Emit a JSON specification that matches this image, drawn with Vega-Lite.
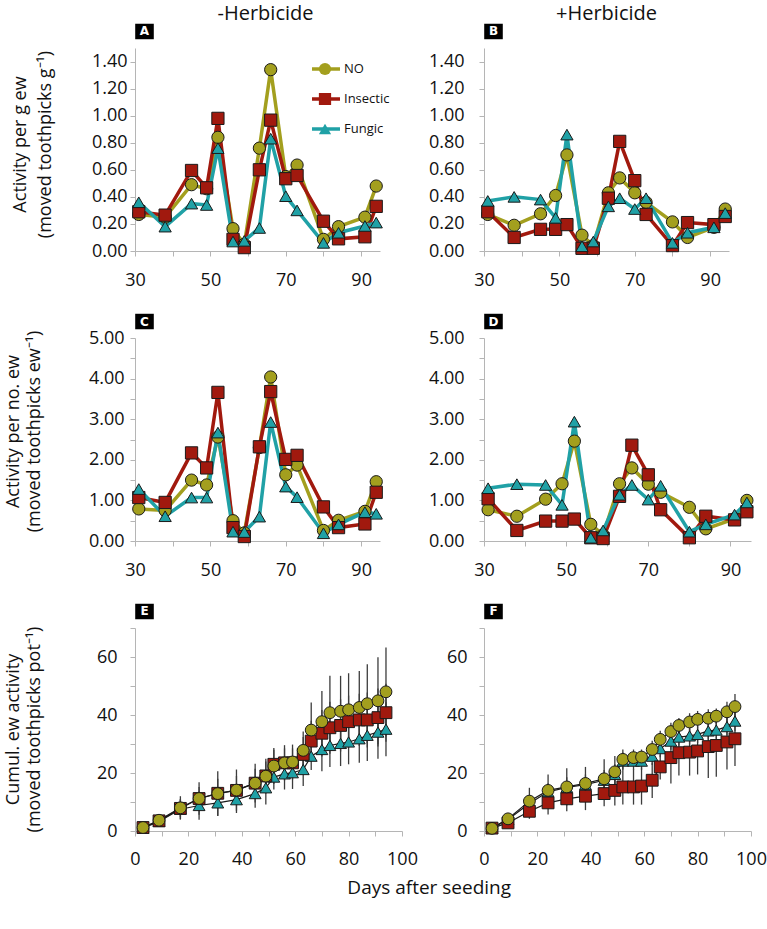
{
  "$schema": "https://vega.github.io/schema/vega-lite/v6.json",
  "padding": {"left": 4, "right": 3, "top": 3, "bottom": 5},
  "config": {
    "view": {"stroke": null},
    "font": "Open Sans",
    "axis": {"grid": false, "domainColor": "#b5b5b5", "tickColor": "#b5b5b5", "tickSize": 5, "labelFont": "Open Sans", "labelFontSize": 18, "labelColor": "#111", "titleFont": "Open Sans", "titleFontSize": 18, "titleFontWeight": "normal", "titleColor": "#111", "labelFlush": false, "labelOverlap": false},
    "axisX": {"labelPadding": 15},
    "axisY": {"labelPadding": 3},
    "title": {"font": "Open Sans", "fontWeight": "normal", "color": "#111"}
  },
  "title": {"text": "Days after seeding", "orient": "bottom", "anchor": "middle", "fontSize": 19, "offset": 11, "dx": 44},
  "columns": 2,
  "bounds": "flush",
  "align": "all",
  "spacing": {"row": 87, "column": 82},
  "resolve": {"legend": {"stroke": "independent"}},
  "datasets": {
    "A": [
      {"day":31,"s":"NO","v":0.27},{"day":38,"s":"NO","v":0.25},{"day":45,"s":"NO","v":0.49},{"day":49,"s":"NO","v":0.46},{"day":52,"s":"NO","v":0.84},{"day":56,"s":"NO","v":0.165},{"day":59,"s":"NO","v":0.05},{"day":63,"s":"NO","v":0.76},{"day":66,"s":"NO","v":1.34},{"day":70,"s":"NO","v":0.55},{"day":73,"s":"NO","v":0.635},{"day":80,"s":"NO","v":0.086},{"day":84,"s":"NO","v":0.18},{"day":91,"s":"NO","v":0.25},{"day":94,"s":"NO","v":0.48},
      {"day":31,"s":"Insectic","v":0.29},{"day":38,"s":"Insectic","v":0.265},{"day":45,"s":"Insectic","v":0.595},{"day":49,"s":"Insectic","v":0.467},{"day":52,"s":"Insectic","v":0.98},{"day":56,"s":"Insectic","v":0.086},{"day":59,"s":"Insectic","v":0.025},{"day":63,"s":"Insectic","v":0.6},{"day":66,"s":"Insectic","v":0.967},{"day":70,"s":"Insectic","v":0.534},{"day":73,"s":"Insectic","v":0.558},{"day":80,"s":"Insectic","v":0.22},{"day":84,"s":"Insectic","v":0.09},{"day":91,"s":"Insectic","v":0.105},{"day":94,"s":"Insectic","v":0.33},
      {"day":31,"s":"Fungic","v":0.36},{"day":38,"s":"Fungic","v":0.18},{"day":45,"s":"Fungic","v":0.35},{"day":49,"s":"Fungic","v":0.34},{"day":52,"s":"Fungic","v":0.76},{"day":56,"s":"Fungic","v":0.07},{"day":59,"s":"Fungic","v":0.075},{"day":63,"s":"Fungic","v":0.17},{"day":66,"s":"Fungic","v":0.83},{"day":70,"s":"Fungic","v":0.405},{"day":73,"s":"Fungic","v":0.3},{"day":80,"s":"Fungic","v":0.06},{"day":84,"s":"Fungic","v":0.135},{"day":91,"s":"Fungic","v":0.185},{"day":94,"s":"Fungic","v":0.21}
    ],
    "B": [
      {"day":31,"s":"NO","v":0.27},{"day":38,"s":"NO","v":0.19},{"day":45,"s":"NO","v":0.275},{"day":49,"s":"NO","v":0.41},{"day":52,"s":"NO","v":0.71},{"day":56,"s":"NO","v":0.117},{"day":59,"s":"NO","v":0.04},{"day":63,"s":"NO","v":0.43},{"day":66,"s":"NO","v":0.54},{"day":70,"s":"NO","v":0.43},{"day":73,"s":"NO","v":0.36},{"day":80,"s":"NO","v":0.215},{"day":84,"s":"NO","v":0.1},{"day":91,"s":"NO","v":0.175},{"day":94,"s":"NO","v":0.31},
      {"day":31,"s":"Insectic","v":0.29},{"day":38,"s":"Insectic","v":0.1},{"day":45,"s":"Insectic","v":0.16},{"day":49,"s":"Insectic","v":0.16},{"day":52,"s":"Insectic","v":0.195},{"day":56,"s":"Insectic","v":0.02},{"day":59,"s":"Insectic","v":0.02},{"day":63,"s":"Insectic","v":0.39},{"day":66,"s":"Insectic","v":0.81},{"day":70,"s":"Insectic","v":0.52},{"day":73,"s":"Insectic","v":0.27},{"day":80,"s":"Insectic","v":0.04},{"day":84,"s":"Insectic","v":0.21},{"day":91,"s":"Insectic","v":0.195},{"day":94,"s":"Insectic","v":0.255},
      {"day":31,"s":"Fungic","v":0.37},{"day":38,"s":"Fungic","v":0.4},{"day":45,"s":"Fungic","v":0.38},{"day":49,"s":"Fungic","v":0.245},{"day":52,"s":"Fungic","v":0.86},{"day":56,"s":"Fungic","v":0.035},{"day":59,"s":"Fungic","v":0.07},{"day":63,"s":"Fungic","v":0.33},{"day":66,"s":"Fungic","v":0.39},{"day":70,"s":"Fungic","v":0.31},{"day":73,"s":"Fungic","v":0.39},{"day":80,"s":"Fungic","v":0.06},{"day":84,"s":"Fungic","v":0.135},{"day":91,"s":"Fungic","v":0.175},{"day":94,"s":"Fungic","v":0.28}
    ],
    "C": [
      {"day":31,"s":"NO","v":0.79},{"day":38,"s":"NO","v":0.75},{"day":45,"s":"NO","v":1.5},{"day":49,"s":"NO","v":1.38},{"day":52,"s":"NO","v":2.56},{"day":56,"s":"NO","v":0.5},{"day":59,"s":"NO","v":0.2},{"day":63,"s":"NO","v":2.3},{"day":66,"s":"NO","v":4.04},{"day":70,"s":"NO","v":1.63},{"day":73,"s":"NO","v":1.87},{"day":80,"s":"NO","v":0.26},{"day":84,"s":"NO","v":0.51},{"day":91,"s":"NO","v":0.73},{"day":94,"s":"NO","v":1.46},
      {"day":31,"s":"Insectic","v":1.07},{"day":38,"s":"Insectic","v":0.95},{"day":45,"s":"Insectic","v":2.17},{"day":49,"s":"Insectic","v":1.8},{"day":52,"s":"Insectic","v":3.66},{"day":56,"s":"Insectic","v":0.33},{"day":59,"s":"Insectic","v":0.11},{"day":63,"s":"Insectic","v":2.32},{"day":66,"s":"Insectic","v":3.68},{"day":70,"s":"Insectic","v":2.01},{"day":73,"s":"Insectic","v":2.11},{"day":80,"s":"Insectic","v":0.84},{"day":84,"s":"Insectic","v":0.33},{"day":91,"s":"Insectic","v":0.42},{"day":94,"s":"Insectic","v":1.2},
      {"day":31,"s":"Fungic","v":1.28},{"day":38,"s":"Fungic","v":0.61},{"day":45,"s":"Fungic","v":1.07},{"day":49,"s":"Fungic","v":1.07},{"day":52,"s":"Fungic","v":2.67},{"day":56,"s":"Fungic","v":0.23},{"day":59,"s":"Fungic","v":0.22},{"day":63,"s":"Fungic","v":0.6},{"day":66,"s":"Fungic","v":2.93},{"day":70,"s":"Fungic","v":1.34},{"day":73,"s":"Fungic","v":1.08},{"day":80,"s":"Fungic","v":0.19},{"day":84,"s":"Fungic","v":0.41},{"day":91,"s":"Fungic","v":0.71},{"day":94,"s":"Fungic","v":0.67}
    ],
    "D": [
      {"day":31,"s":"NO","v":0.77},{"day":38,"s":"NO","v":0.61},{"day":45,"s":"NO","v":1.03},{"day":49,"s":"NO","v":1.41},{"day":52,"s":"NO","v":2.46},{"day":56,"s":"NO","v":0.41},{"day":59,"s":"NO","v":0.15},{"day":63,"s":"NO","v":1.41},{"day":66,"s":"NO","v":1.8},{"day":70,"s":"NO","v":1.4},{"day":73,"s":"NO","v":1.2},{"day":80,"s":"NO","v":0.83},{"day":84,"s":"NO","v":0.3},{"day":91,"s":"NO","v":0.55},{"day":94,"s":"NO","v":1.0},
      {"day":31,"s":"Insectic","v":1.04},{"day":38,"s":"Insectic","v":0.26},{"day":45,"s":"Insectic","v":0.49},{"day":49,"s":"Insectic","v":0.49},{"day":52,"s":"Insectic","v":0.54},{"day":56,"s":"Insectic","v":0.08},{"day":59,"s":"Insectic","v":0.06},{"day":63,"s":"Insectic","v":1.1},{"day":66,"s":"Insectic","v":2.36},{"day":70,"s":"Insectic","v":1.63},{"day":73,"s":"Insectic","v":0.77},{"day":80,"s":"Insectic","v":0.08},{"day":84,"s":"Insectic","v":0.61},{"day":91,"s":"Insectic","v":0.52},{"day":94,"s":"Insectic","v":0.72},
      {"day":31,"s":"Fungic","v":1.3},{"day":38,"s":"Fungic","v":1.4},{"day":45,"s":"Fungic","v":1.38},{"day":49,"s":"Fungic","v":0.89},{"day":52,"s":"Fungic","v":2.94},{"day":56,"s":"Fungic","v":0.08},{"day":59,"s":"Fungic","v":0.26},{"day":63,"s":"Fungic","v":1.14},{"day":66,"s":"Fungic","v":1.38},{"day":70,"s":"Fungic","v":1.02},{"day":73,"s":"Fungic","v":1.36},{"day":80,"s":"Fungic","v":0.23},{"day":84,"s":"Fungic","v":0.41},{"day":91,"s":"Fungic","v":0.65},{"day":94,"s":"Fungic","v":0.95}
    ],
    "E": [
      {"day":3,"s":"Fungic","v":1.0,"e":0.3},{"day":9,"s":"Fungic","v":3.3,"e":0.8},{"day":17,"s":"Fungic","v":7.5,"e":3.5},{"day":24,"s":"Fungic","v":8.8,"e":4.9},{"day":31,"s":"Fungic","v":9.7,"e":4.4},{"day":38,"s":"Fungic","v":10.8,"e":4.6},{"day":45,"s":"Fungic","v":12.9,"e":4.9},{"day":49,"s":"Fungic","v":14.9,"e":5.8},{"day":52,"s":"Fungic","v":18.6,"e":4.3},{"day":56,"s":"Fungic","v":19.7,"e":5.4},{"day":59,"s":"Fungic","v":20.1,"e":5.6},{"day":63,"s":"Fungic","v":21.2,"e":5.7},{"day":66,"s":"Fungic","v":25.8,"e":4.8},{"day":70,"s":"Fungic","v":28.1,"e":7.5},{"day":73,"s":"Fungic","v":29.5,"e":7.4},{"day":77,"s":"Fungic","v":30.2,"e":7.8},{"day":80,"s":"Fungic","v":30.7,"e":7.7},{"day":84,"s":"Fungic","v":31.8,"e":8.3},{"day":87,"s":"Fungic","v":33.0,"e":8.9},{"day":91,"s":"Fungic","v":34.1,"e":9.2},{"day":94,"s":"Fungic","v":35.1,"e":9.3},
      {"day":3,"s":"Insectic","v":1.2,"e":0.3},{"day":9,"s":"Insectic","v":3.5,"e":0.8},{"day":17,"s":"Insectic","v":7.8,"e":3},{"day":24,"s":"Insectic","v":11.2,"e":4},{"day":31,"s":"Insectic","v":13,"e":5},{"day":38,"s":"Insectic","v":14,"e":5},{"day":45,"s":"Insectic","v":16.5,"e":5},{"day":49,"s":"Insectic","v":19,"e":5},{"day":52,"s":"Insectic","v":23,"e":5},{"day":56,"s":"Insectic","v":23.5,"e":5},{"day":59,"s":"Insectic","v":23.5,"e":5},{"day":63,"s":"Insectic","v":26.4,"e":6},{"day":66,"s":"Insectic","v":31,"e":7},{"day":70,"s":"Insectic","v":33.7,"e":8},{"day":73,"s":"Insectic","v":35.6,"e":9},{"day":77,"s":"Insectic","v":36.4,"e":9},{"day":80,"s":"Insectic","v":37.7,"e":9},{"day":84,"s":"Insectic","v":38.3,"e":9},{"day":87,"s":"Insectic","v":38.3,"e":9.5},{"day":91,"s":"Insectic","v":39.1,"e":10},{"day":94,"s":"Insectic","v":40.8,"e":10},
      {"day":3,"s":"NO","v":1.2,"e":0.5},{"day":9,"s":"NO","v":3.7,"e":1},{"day":17,"s":"NO","v":8.0,"e":4},{"day":24,"s":"NO","v":11.2,"e":5.6},{"day":31,"s":"NO","v":12.9,"e":7.7},{"day":38,"s":"NO","v":14.1,"e":7.1},{"day":45,"s":"NO","v":16.5,"e":6.7},{"day":49,"s":"NO","v":18.9,"e":6.0},{"day":52,"s":"NO","v":22.4,"e":6.2},{"day":56,"s":"NO","v":23.5,"e":6.1},{"day":59,"s":"NO","v":23.8,"e":6.0},{"day":63,"s":"NO","v":27.8,"e":6.5},{"day":66,"s":"NO","v":34.8,"e":9.5},{"day":70,"s":"NO","v":37.7,"e":10.6},{"day":73,"s":"NO","v":40.8,"e":12.7},{"day":77,"s":"NO","v":41.3,"e":12.2},{"day":80,"s":"NO","v":41.8,"e":12.6},{"day":84,"s":"NO","v":42.6,"e":12.6},{"day":87,"s":"NO","v":43.9,"e":13.6},{"day":91,"s":"NO","v":44.9,"e":15},{"day":94,"s":"NO","v":48.0,"e":15.3}
    ],
    "F": [
      {"day":3,"s":"Fungic","v":1.0,"e":0.3},{"day":9,"s":"Fungic","v":4.0,"e":0.8},{"day":17,"s":"Fungic","v":9.5,"e":2.5},{"day":24,"s":"Fungic","v":13.5,"e":3},{"day":31,"s":"Fungic","v":15,"e":3.5},{"day":38,"s":"Fungic","v":16,"e":3.5},{"day":45,"s":"Fungic","v":17.5,"e":3.5},{"day":49,"s":"Fungic","v":19.5,"e":3.5},{"day":52,"s":"Fungic","v":24.1,"e":3},{"day":56,"s":"Fungic","v":24.1,"e":3},{"day":59,"s":"Fungic","v":24.1,"e":3},{"day":63,"s":"Fungic","v":25.8,"e":3},{"day":66,"s":"Fungic","v":28.4,"e":3},{"day":70,"s":"Fungic","v":31.0,"e":3},{"day":73,"s":"Fungic","v":32.4,"e":3},{"day":77,"s":"Fungic","v":32.8,"e":3},{"day":80,"s":"Fungic","v":33.3,"e":3},{"day":84,"s":"Fungic","v":34.5,"e":3},{"day":87,"s":"Fungic","v":34.8,"e":3},{"day":91,"s":"Fungic","v":36.0,"e":3},{"day":94,"s":"Fungic","v":37.9,"e":3.5},
      {"day":3,"s":"Insectic","v":1.0,"e":0.3},{"day":9,"s":"Insectic","v":2.8,"e":0.8},{"day":17,"s":"Insectic","v":6.8,"e":2.6},{"day":24,"s":"Insectic","v":9.7,"e":4.0},{"day":31,"s":"Insectic","v":11.1,"e":4.3},{"day":38,"s":"Insectic","v":12.0,"e":4.8},{"day":45,"s":"Insectic","v":12.9,"e":4.4},{"day":49,"s":"Insectic","v":14.0,"e":5.2},{"day":52,"s":"Insectic","v":15.2,"e":6.1},{"day":56,"s":"Insectic","v":15.2,"e":6.1},{"day":59,"s":"Insectic","v":15.5,"e":6.4},{"day":63,"s":"Insectic","v":17.5,"e":6.1},{"day":66,"s":"Insectic","v":22.1,"e":4.3},{"day":70,"s":"Insectic","v":25.3,"e":8.9},{"day":73,"s":"Insectic","v":27.0,"e":7.9},{"day":77,"s":"Insectic","v":27.2,"e":8.1},{"day":80,"s":"Insectic","v":27.6,"e":8.1},{"day":84,"s":"Insectic","v":29.1,"e":10.8},{"day":87,"s":"Insectic","v":29.5,"e":10.8},{"day":91,"s":"Insectic","v":30.7,"e":9.5},{"day":94,"s":"Insectic","v":31.8,"e":9.4},
      {"day":3,"s":"NO","v":0.9,"e":0.4},{"day":9,"s":"NO","v":4.2,"e":1},{"day":17,"s":"NO","v":10.3,"e":4.6},{"day":24,"s":"NO","v":14.0,"e":5.5},{"day":31,"s":"NO","v":15.2,"e":6.4},{"day":38,"s":"NO","v":16.4,"e":5.7},{"day":45,"s":"NO","v":18.0,"e":6.7},{"day":49,"s":"NO","v":20.4,"e":5.5},{"day":52,"s":"NO","v":24.7,"e":3.4},{"day":56,"s":"NO","v":25.3,"e":2.8},{"day":59,"s":"NO","v":25.5,"e":2.6},{"day":63,"s":"NO","v":28.1,"e":3},{"day":66,"s":"NO","v":31.6,"e":3},{"day":70,"s":"NO","v":34.3,"e":3},{"day":73,"s":"NO","v":36.4,"e":2.6},{"day":77,"s":"NO","v":37.6,"e":3},{"day":80,"s":"NO","v":38.5,"e":2.9},{"day":84,"s":"NO","v":38.9,"e":3.1},{"day":87,"s":"NO","v":39.6,"e":2.6},{"day":91,"s":"NO","v":41.1,"e":3.5},{"day":94,"s":"NO","v":42.9,"e":4.3}
    ]
  },
  "concat": [
    {
      "width": 245, "height": 203,
      "title": {"text": "-Herbicide", "fontSize": 20, "offset": 0, "dx": 8},
      "data": {"name": "A"},
      "layer": [
        {"mark": {"type": "line", "strokeWidth": 3.5},
         "encoding": {
           "x": {"field": "day", "type": "quantitative", "scale": {"domain": [30, 95], "nice": false, "zero": false}, "axis": {"values": [30,40,50,60,70,80,90], "tickCount": 50, "labelExpr": "datum.value % 20 == 10 ? datum.label : ''", "labelOverlap": false, "title": null}},
           "y": {"field": "v", "type": "quantitative", "scale": {"domain": [0, 1.5], "nice": false}, "axis": {"values": [0,0.2,0.4,0.6,0.8,1.0,1.2,1.4], "tickCount": 50, "format": ".2f", "labelOverlap": false, "labelPadding": 3, "title": ["Activity per g ew", "(moved toothpicks g⁻¹)"], "titleX": -106, "titleY": 96, "titleAngle": 270, "titleBaseline": "bottom", "titleAlign": "center", "titleLineHeight": 25}},
           "stroke": {"field": "s", "type": "nominal", "scale": {"domain": ["NO","Insectic","Fungic"], "range": ["#A39F1E","#A1190E","#20A1A6"]},
             "legend": {"orient": "none", "legendX": 175, "legendY": 6, "title": null, "symbolType": "stroke", "symbolSize": 784, "symbolStrokeWidth": 3.5, "labelExpr": "''", "labelFontSize": 13, "rowPadding": 0, "clipHeight": 30}}
         }},
        {"mark": {"type": "point", "filled": true, "opacity": 1, "stroke": "#1a1a1a", "strokeWidth": 1, "size": 150},
         "encoding": {
           "x": {"field": "day", "type": "quantitative"},
           "y": {"field": "v", "type": "quantitative"},
           "fill": {"field": "s", "type": "nominal", "scale": {"domain": ["NO","Insectic","Fungic"], "range": ["#A39F1E","#A1190E","#20A1A6"]},
             "legend": {"orient": "none", "legendX": 183, "legendY": 6, "title": null, "symbolSize": 150, "symbolStrokeColor": "#1a1a1a", "symbolStrokeWidth": 1, "symbolOpacity": 1, "labelOffset": 12, "labelFontSize": 13, "labelFont": "Open Sans", "labelColor": "#111", "rowPadding": 0, "clipHeight": 30}},
           "shape": {"field": "s", "type": "nominal", "scale": {"domain": ["NO","Insectic","Fungic"], "range": ["circle","square","triangle-up"]},
             "legend": {"orient": "none", "legendX": 183, "legendY": 6, "title": null, "symbolSize": 150, "symbolStrokeColor": "#1a1a1a", "symbolStrokeWidth": 1, "symbolOpacity": 1, "labelOffset": 12, "labelFontSize": 13, "labelFont": "Open Sans", "labelColor": "#111", "rowPadding": 0, "clipHeight": 30}}
         }},
        {"data": {"values": [{"lab": "A"}]}, "mark": {"type": "point", "shape": "M-1.2,-1H1.2V1H-1.2Z", "filled": true, "color": "#000", "opacity": 1, "size": 240},
         "encoding": {"x": {"datum": 32.52}, "y": {"datum": 1.622}}},
        {"data": {"values": [{"lab": "A"}]}, "mark": {"type": "text", "color": "#fff", "font": "DejaVu Sans", "fontWeight": "bold", "fontSize": 12},
         "encoding": {"x": {"datum": 32.52}, "y": {"datum": 1.622}, "text": {"field": "lab"}}}
      ]
    },
    {
      "width": 245, "height": 203,
      "title": {"text": "+Herbicide", "fontSize": 20, "offset": 0},
      "data": {"name": "B"},
      "layer": [
        {"mark": {"type": "line", "strokeWidth": 3.5},
         "encoding": {
           "x": {"field": "day", "type": "quantitative", "scale": {"domain": [30, 95], "nice": false, "zero": false}, "axis": {"values": [30,40,50,60,70,80,90], "tickCount": 50, "labelExpr": "datum.value % 20 == 10 ? datum.label : ''", "labelOverlap": false, "title": null}},
           "y": {"field": "v", "type": "quantitative", "scale": {"domain": [0, 1.5], "nice": false}, "axis": {"values": [0,0.2,0.4,0.6,0.8,1.0,1.2,1.4], "tickCount": 50, "format": ".2f", "labelOverlap": false, "labelPadding": 15, "title": null}},
           "stroke": {"field": "s", "type": "nominal", "scale": {"domain": ["NO","Insectic","Fungic"], "range": ["#A39F1E","#A1190E","#20A1A6"]}, "legend": null}
         }},
        {"mark": {"type": "point", "filled": true, "opacity": 1, "stroke": "#1a1a1a", "strokeWidth": 1, "size": 150},
         "encoding": {
           "x": {"field": "day", "type": "quantitative"},
           "y": {"field": "v", "type": "quantitative"},
           "fill": {"field": "s", "type": "nominal", "scale": {"domain": ["NO","Insectic","Fungic"], "range": ["#A39F1E","#A1190E","#20A1A6"]}, "legend": null},
           "shape": {"field": "s", "type": "nominal", "scale": {"domain": ["NO","Insectic","Fungic"], "range": ["circle","square","triangle-up"]}, "legend": null}
         }},
        {"data": {"values": [{"lab": "B"}]}, "mark": {"type": "point", "shape": "M-1.2,-1H1.2V1H-1.2Z", "filled": true, "color": "#000", "opacity": 1, "size": 240},
         "encoding": {"x": {"datum": 32.52}, "y": {"datum": 1.622}}},
        {"data": {"values": [{"lab": "B"}]}, "mark": {"type": "text", "color": "#fff", "font": "DejaVu Sans", "fontWeight": "bold", "fontSize": 12},
         "encoding": {"x": {"datum": 32.52}, "y": {"datum": 1.622}, "text": {"field": "lab"}}}
      ]
    },
    {
      "width": 245, "height": 203,
      "data": {"name": "C"},
      "layer": [
        {"mark": {"type": "line", "strokeWidth": 3.5},
         "encoding": {
           "x": {"field": "day", "type": "quantitative", "scale": {"domain": [30, 95], "nice": false, "zero": false}, "axis": {"values": [30,40,50,60,70,80,90], "tickCount": 50, "labelExpr": "datum.value % 20 == 10 ? datum.label : ''", "labelOverlap": false, "title": null}},
           "y": {"field": "v", "type": "quantitative", "scale": {"domain": [0, 5], "nice": false}, "axis": {"values": [0,0.5,1,1.5,2,2.5,3,3.5,4,4.5,5], "tickCount": 50, "labelExpr": "datum.value % 1 == 0 ? format(datum.value, '.2f') : ''", "labelOverlap": false, "labelPadding": 6, "title": ["Activity per no. ew", "(moved toothpicks ew⁻¹)"], "titleX": -113, "titleY": 93, "titleAngle": 270, "titleBaseline": "bottom", "titleAlign": "center", "titleLineHeight": 21}},
           "stroke": {"field": "s", "type": "nominal", "scale": {"domain": ["NO","Insectic","Fungic"], "range": ["#A39F1E","#A1190E","#20A1A6"]}, "legend": null}
         }},
        {"mark": {"type": "point", "filled": true, "opacity": 1, "stroke": "#1a1a1a", "strokeWidth": 1, "size": 150},
         "encoding": {
           "x": {"field": "day", "type": "quantitative"},
           "y": {"field": "v", "type": "quantitative"},
           "fill": {"field": "s", "type": "nominal", "scale": {"domain": ["NO","Insectic","Fungic"], "range": ["#A39F1E","#A1190E","#20A1A6"]}, "legend": null},
           "shape": {"field": "s", "type": "nominal", "scale": {"domain": ["NO","Insectic","Fungic"], "range": ["circle","square","triangle-up"]}, "legend": null}
         }},
        {"data": {"values": [{"lab": "C"}]}, "mark": {"type": "point", "shape": "M-1.2,-1H1.2V1H-1.2Z", "filled": true, "color": "#000", "opacity": 1, "size": 240},
         "encoding": {"x": {"datum": 32.52}, "y": {"datum": 5.406}}},
        {"data": {"values": [{"lab": "C"}]}, "mark": {"type": "text", "color": "#fff", "font": "DejaVu Sans", "fontWeight": "bold", "fontSize": 12},
         "encoding": {"x": {"datum": 32.52}, "y": {"datum": 5.406}, "text": {"field": "lab"}}}
      ]
    },
    {
      "width": 267, "height": 203,
      "data": {"name": "D"},
      "layer": [
        {"mark": {"type": "line", "strokeWidth": 3.5},
         "encoding": {
           "x": {"field": "day", "type": "quantitative", "scale": {"domain": [30, 95], "nice": false, "zero": false}, "axis": {"values": [30,40,50,60,70,80,90], "tickCount": 50, "labelExpr": "datum.value % 20 == 10 ? datum.label : ''", "labelOverlap": false, "title": null}},
           "y": {"field": "v", "type": "quantitative", "scale": {"domain": [0, 5], "nice": false}, "axis": {"values": [0,0.5,1,1.5,2,2.5,3,3.5,4,4.5,5], "tickCount": 50, "labelExpr": "datum.value % 1 == 0 ? format(datum.value, '.2f') : ''", "labelOverlap": false, "labelPadding": 15, "title": null}},
           "stroke": {"field": "s", "type": "nominal", "scale": {"domain": ["NO","Insectic","Fungic"], "range": ["#A39F1E","#A1190E","#20A1A6"]}, "legend": null}
         }},
        {"mark": {"type": "point", "filled": true, "opacity": 1, "stroke": "#1a1a1a", "strokeWidth": 1, "size": 150},
         "encoding": {
           "x": {"field": "day", "type": "quantitative"},
           "y": {"field": "v", "type": "quantitative"},
           "fill": {"field": "s", "type": "nominal", "scale": {"domain": ["NO","Insectic","Fungic"], "range": ["#A39F1E","#A1190E","#20A1A6"]}, "legend": null},
           "shape": {"field": "s", "type": "nominal", "scale": {"domain": ["NO","Insectic","Fungic"], "range": ["circle","square","triangle-up"]}, "legend": null}
         }},
        {"data": {"values": [{"lab": "D"}]}, "mark": {"type": "point", "shape": "M-1.2,-1H1.2V1H-1.2Z", "filled": true, "color": "#000", "opacity": 1, "size": 240},
         "encoding": {"x": {"datum": 32.31}, "y": {"datum": 5.406}}},
        {"data": {"values": [{"lab": "D"}]}, "mark": {"type": "text", "color": "#fff", "font": "DejaVu Sans", "fontWeight": "bold", "fontSize": 12},
         "encoding": {"x": {"datum": 32.31}, "y": {"datum": 5.406}, "text": {"field": "lab"}}}
      ]
    },
    {
      "width": 267, "height": 203,
      "data": {"name": "E"},
      "layer": [
        {"mark": {"type": "errorbar", "rule": {"stroke": "#3c3c3c", "strokeWidth": 1.3}},
         "encoding": {
           "x": {"field": "day", "type": "quantitative", "scale": {"domain": [0, 100], "nice": false}, "axis": {"values": [0,10,20,30,40,50,60,70,80,90,100], "tickCount": 50, "labelExpr": "datum.value % 20 == 0 ? datum.label : ''", "labelOverlap": false, "labelPadding": 14, "title": null}},
           "y": {"field": "v", "type": "quantitative", "scale": {"domain": [0, 70], "nice": false}, "axis": {"values": [0,10,20,30,40,50,60,70], "tickCount": 50, "labelExpr": "datum.value % 20 == 0 ? datum.label : ''", "labelOverlap": false, "labelPadding": 13, "title": ["Cumul. ew activity", "(moved toothpicks pot⁻¹)"], "titleX": -113, "titleY": 101, "titleAngle": 270, "titleBaseline": "bottom", "titleAlign": "center", "titleLineHeight": 21}},
           "yError": {"field": "e"},
           "detail": {"field": "s", "type": "nominal"}
         }},
        {"mark": {"type": "line", "strokeWidth": 1.2, "color": "#1a1a1a"},
         "encoding": {
           "x": {"field": "day", "type": "quantitative"},
           "y": {"field": "v", "type": "quantitative"},
           "detail": {"field": "s", "type": "nominal"}
         }},
        {"mark": {"type": "point", "filled": true, "opacity": 1, "stroke": "#1a1a1a", "strokeWidth": 1, "size": 140},
         "encoding": {
           "x": {"field": "day", "type": "quantitative"},
           "y": {"field": "v", "type": "quantitative"},
           "fill": {"field": "s", "type": "nominal", "scale": {"domain": ["NO","Insectic","Fungic"], "range": ["#A39F1E","#A1190E","#20A1A6"]}, "legend": null},
           "shape": {"field": "s", "type": "nominal", "scale": {"domain": ["NO","Insectic","Fungic"], "range": ["circle","square","triangle-up"]}, "legend": null}
         }},
        {"data": {"values": [{"lab": "E"}]}, "mark": {"type": "point", "shape": "M-1.2,-1H1.2V1H-1.2Z", "filled": true, "color": "#000", "opacity": 1, "size": 240},
         "encoding": {"x": {"datum": 3.56}, "y": {"datum": 75.69}}},
        {"data": {"values": [{"lab": "E"}]}, "mark": {"type": "text", "color": "#fff", "font": "DejaVu Sans", "fontWeight": "bold", "fontSize": 12},
         "encoding": {"x": {"datum": 3.56}, "y": {"datum": 75.69}, "text": {"field": "lab"}}}
      ]
    },
    {
      "width": 267, "height": 203,
      "data": {"name": "F"},
      "layer": [
        {"mark": {"type": "errorbar", "rule": {"stroke": "#3c3c3c", "strokeWidth": 1.3}},
         "encoding": {
           "x": {"field": "day", "type": "quantitative", "scale": {"domain": [0, 100], "nice": false}, "axis": {"values": [0,10,20,30,40,50,60,70,80,90,100], "tickCount": 50, "labelExpr": "datum.value % 20 == 0 ? datum.label : ''", "labelOverlap": false, "labelPadding": 14, "title": null}},
           "y": {"field": "v", "type": "quantitative", "scale": {"domain": [0, 70], "nice": false}, "axis": {"values": [0,10,20,30,40,50,60,70], "tickCount": 50, "labelExpr": "datum.value % 20 == 0 ? datum.label : ''", "labelOverlap": false, "labelPadding": 12, "title": null}},
           "yError": {"field": "e"},
           "detail": {"field": "s", "type": "nominal"}
         }},
        {"mark": {"type": "line", "strokeWidth": 1.2, "color": "#1a1a1a"},
         "encoding": {
           "x": {"field": "day", "type": "quantitative"},
           "y": {"field": "v", "type": "quantitative"},
           "detail": {"field": "s", "type": "nominal"}
         }},
        {"mark": {"type": "point", "filled": true, "opacity": 1, "stroke": "#1a1a1a", "strokeWidth": 1, "size": 140},
         "encoding": {
           "x": {"field": "day", "type": "quantitative"},
           "y": {"field": "v", "type": "quantitative"},
           "fill": {"field": "s", "type": "nominal", "scale": {"domain": ["NO","Insectic","Fungic"], "range": ["#A39F1E","#A1190E","#20A1A6"]}, "legend": null},
           "shape": {"field": "s", "type": "nominal", "scale": {"domain": ["NO","Insectic","Fungic"], "range": ["circle","square","triangle-up"]}, "legend": null}
         }},
        {"data": {"values": [{"lab": "F"}]}, "mark": {"type": "point", "shape": "M-1.2,-1H1.2V1H-1.2Z", "filled": true, "color": "#000", "opacity": 1, "size": 240},
         "encoding": {"x": {"datum": 3.56}, "y": {"datum": 75.69}}},
        {"data": {"values": [{"lab": "F"}]}, "mark": {"type": "text", "color": "#fff", "font": "DejaVu Sans", "fontWeight": "bold", "fontSize": 12},
         "encoding": {"x": {"datum": 3.56}, "y": {"datum": 75.69}, "text": {"field": "lab"}}}
      ]
    }
  ]
}
